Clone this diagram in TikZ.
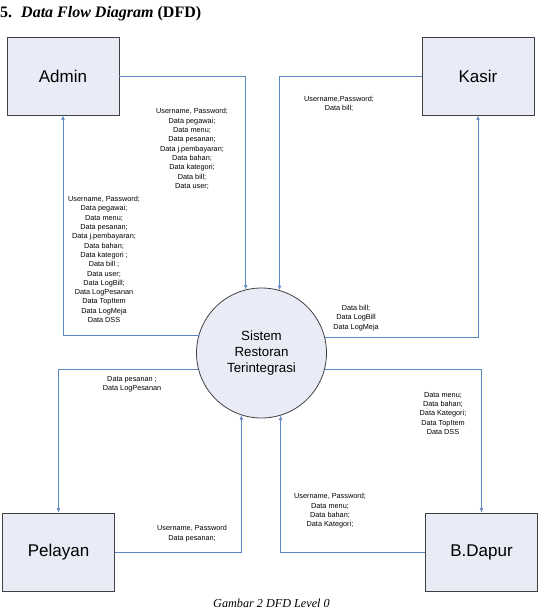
\documentclass[tikz,border=0pt]{standalone}
\usepackage{fontspec}
\setmainfont{Liberation Serif}
\setsansfont{Liberation Sans}
\usetikzlibrary{arrows.meta}
\definecolor{boxfill}{HTML}{E9EBF6}
\definecolor{flow}{HTML}{5B86C2}
\definecolor{edge}{HTML}{404040}
\begin{document}
\begin{tikzpicture}[x=1pt,y=-1pt,
  entity/.style={draw=edge, fill=boxfill, minimum width=112pt, minimum height=78pt,
    inner sep=0pt, line width=0.8pt, font=\sffamily\fontsize{17}{20}\selectfont},
  process/.style={circle, draw=edge, fill=boxfill, minimum size=130pt, inner sep=0pt,
    line width=0.8pt, align=center, font=\sffamily\fontsize{13.3}{16}\selectfont},
  lbl/.style={font=\sffamily\fontsize{7.3}{9.3}\selectfont, align=center, inner sep=0pt},
  flowline/.style={draw=flow, line width=0.6pt, -{Latex[length=4.5pt,width=3.6pt]}}]
\useasboundingbox (0,0) rectangle (544,613);
% title
\node[anchor=base west, inner sep=0pt, font=\fontsize{16}{18}\selectfont\bfseries] (num) at (0,17.5) {5.};
\node[anchor=base west, inner sep=0pt, font=\fontsize{16}{18}\selectfont\bfseries] (title) at (21,17.5) {\textit{Data Flow Diagram} (DFD)};
% entities
\node[entity] (admin) at (63,76) {Admin};
\node[entity] (kasir) at (478,76) {Kasir};
\node[entity] (pelayan) at (58.5,552) {Pelayan};
\node[entity] (dapur) at (481.5,552) {B.Dapur};
\node[process] (sys) at (261.5,353) {Sistem\\Restoran\\Terintegrasi};
% flows
\draw[flowline] (admin.east) -| (sys.104);
\draw[flowline] (sys.164) -| (admin.south);
\draw[flowline] (kasir.west) -| (sys.74);
\draw[flowline] (sys.14) -| (kasir.south);
\draw[flowline] (sys.194) -| (pelayan.north);
\draw[flowline] (pelayan.east) -| (sys.252);
\draw[flowline] (sys.-14) -| (dapur.north);
\draw[flowline] (dapur.west) -| (sys.287);
% labels
\node[lbl] (l1) at (192,149) {Username, Password;\\Data pegawai;\\Data menu;\\Data pesanan;\\Data j.pembayaran;\\Data bahan;\\Data kategori;\\Data bill;\\Data user;};
\node[lbl] (l2) at (104,259.5) {Username, Password;\\Data pegawai;\\Data menu;\\Data pesanan;\\Data j.pembayaran;\\Data bahan;\\Data kategori ;\\Data bill ;\\Data user;\\Data LogBill;\\Data LogPesanan\\Data TopItem\\Data LogMeja\\Data DSS};
\node[lbl] (l3) at (339,104) {Username,Password;\\Data bill;};
\node[lbl] (l4) at (356,318) {Data bill;\\Data LogBill\\Data LogMeja};
\node[lbl] (l5) at (132,384.5) {Data pesanan ;\\Data LogPesanan};
\node[lbl] (l6) at (192,533.5) {Username, Password\\Data pesanan;};
\node[lbl] (l7) at (443,413.5) {Data menu;\\Data bahan;\\Data Kategori;\\Data TopItem\\Data DSS};
\node[lbl] (l8) at (330,511) {Username, Password;\\Data menu;\\Data bahan;\\Data Kategori;};
% caption
\node[anchor=base, inner sep=0pt, font=\fontsize{12.2}{14}\selectfont\itshape] (cap) at (271.5,607) {Gambar 2 DFD Level 0};
\end{tikzpicture}
\end{document}
